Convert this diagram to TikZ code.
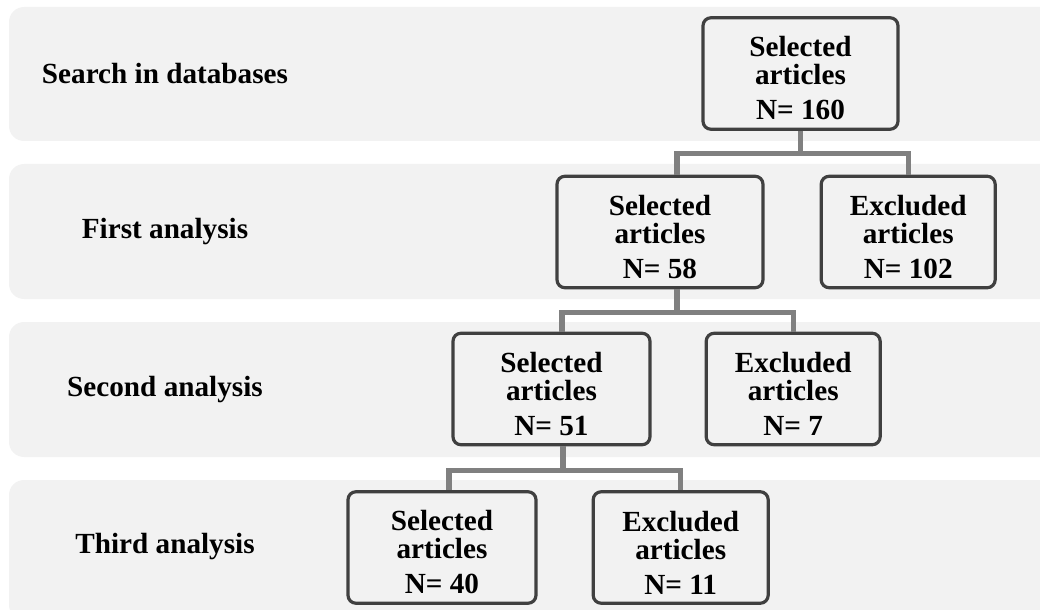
\documentclass[tikz,border=0pt]{standalone}
\usepackage{fontspec}
\setmainfont{Liberation Serif}
\usetikzlibrary{positioning, calc}

\newcommand{\tallstrut}{\rule{0pt}{15pt}}

\begin{document}
\begin{tikzpicture}[
        x=0.5pt, y=-0.5pt,
        font=\fontsize{14.6}{14}\selectfont\bfseries,
        band/.style={fill=black!5, rounded corners=7.5pt},
        stage/.style={text centered},
        box/.style={rectangle, draw=black!75, line width=1.6pt, fill=black!5, align=center, rounded corners=4pt, minimum height=55.75pt, inner sep=0pt},
        link/.style={draw=black!50, line width=2.6pt}
    ]
        \useasboundingbox (0,0) rectangle (1040,610);

        \fill [band] (9,7) rectangle (1070,141);
        \fill [band] (9,164) rectangle (1070,299);
        \fill [band] (9,322) rectangle (1070,457);
        \fill [band] (9,480) rectangle (1070,620);

        \node (search) [stage] at (165,74) {Search in databases};
        \node (first) [stage] at (165,232) {First analysis};
        \node (second) [stage] at (165,390) {Second analysis};
        \node (third) [stage] at (165,547) {Third analysis};

        \node (sel0) [box, minimum width=97.5pt] at (800.5,73.5) {\tallstrut Selected\\articles\\[3.5pt]N= 160};
        \node (sel1) [box, minimum width=103pt] at (660,232) {\tallstrut Selected\\articles\\[3.5pt]N= 58};
        \node (exc1) [box, minimum width=87pt, right=27.5pt of sel1] {\tallstrut Excluded\\articles\\[3.5pt]N= 102};
        \node (sel2) [box, minimum width=98.5pt] at (551.5,389) {\tallstrut Selected\\articles\\[3.5pt]N= 51};
        \node (exc2) [box, minimum width=87pt, right=26.5pt of sel2] {\tallstrut Excluded\\articles\\[3.5pt]N= 7};
        \node (sel3) [box, minimum width=94pt] at (442,547.5) {\tallstrut Selected\\articles\\[3.5pt]N= 40};
        \node (exc3) [box, minimum width=87.5pt, right=27pt of sel3] {\tallstrut Excluded\\articles\\[3.5pt]N= 11};

        \draw [link] (sel0.south) -- ++(0,23) -| ($(sel1.north)+(17,0)$);
        \draw [link] (sel0.south) -- ++(0,23) -| (exc1.north);
        \draw [link] ($(sel1.south)+(17,0)$) -- ++(0,23) -| ($(sel2.north)+(10.5,0)$);
        \draw [link] ($(sel1.south)+(17,0)$) -- ++(0,23) -| (exc2.north);
        \draw [link] ($(sel2.south)+(11.5,0)$) -- ++(0,24) -| ($(sel3.north)+(7,0)$);
        \draw [link] ($(sel2.south)+(11.5,0)$) -- ++(0,24) -| (exc3.north);
    \end{tikzpicture}
\end{document}
